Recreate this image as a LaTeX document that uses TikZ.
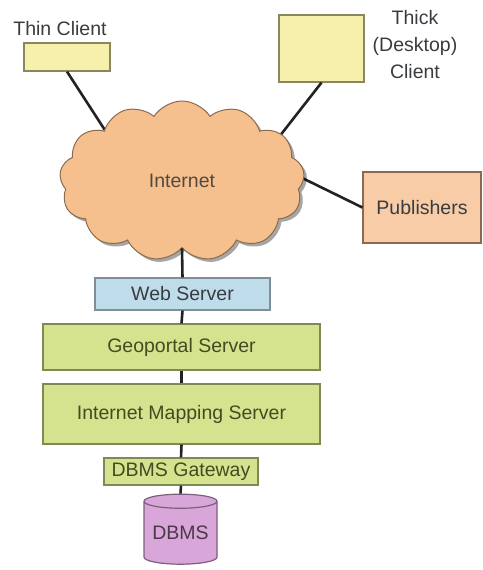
\documentclass[tikz,border=0pt]{standalone}
\usepackage{fontspec}
\setmainfont{Liberation Sans}
\usetikzlibrary{shapes.symbols,shapes.geometric,shadows}
\definecolor{clientfill}{HTML}{F7F0AC}
\definecolor{clientdraw}{HTML}{8A8660}
\definecolor{cloudfill}{HTML}{F6C08E}
\definecolor{clouddraw}{HTML}{8A6A50}
\definecolor{pubfill}{HTML}{F7CCA6}
\definecolor{webfill}{HTML}{BFDCEA}
\definecolor{webdraw}{HTML}{7F8E98}
\definecolor{greenfill}{HTML}{D6E38E}
\definecolor{greendraw}{HTML}{7E8A55}
\definecolor{dbfill}{HTML}{D8A6D8}
\definecolor{dbdraw}{HTML}{7E5E7E}
\definecolor{txt}{HTML}{383C40}
\definecolor{greentxt}{HTML}{424C22}
\definecolor{wire}{HTML}{222222}
\begin{document}
\begin{tikzpicture}[x=1pt,y=-1pt,
  every node/.style={font=\fontsize{19.5}{27}\selectfont, text=txt, inner sep=0pt},
  box/.style={draw, line width=1.2pt, rectangle},
  client/.style={box, fill=clientfill, draw=clientdraw},
  tier/.style={box, fill=greenfill, draw=greendraw, text=greentxt},
  wireline/.style={draw=wire, line width=2.6pt}]
\useasboundingbox (0,0) rectangle (482,570);

% connector ends hidden under the cloud
\coordinate (thinend) at (112,141);
\coordinate (thickend) at (272,146);
\coordinate (pubend) at (292,173);

% clients and publisher
\node[client, minimum width=86pt, minimum height=28pt] (thin) at (67,57) {};
\node (thinlabel) at (60,29) {Thin Client};
\node[client, minimum width=85pt, minimum height=67pt] (thick) at (321.5,48.5) {};
\node[align=center] (thicklabel) at (415,45) {Thick\\(Desktop)\\Client};
\node[box, fill=pubfill, draw=clouddraw, minimum width=118pt, minimum height=71pt] (pub) at (422,207.5) {Publishers};

\draw[wireline] (thin.south) -- (thinend);
\draw[wireline] (thick.south) -- (thickend);
\draw[wireline] (pub.west) -- (pubend);

% the internet cloud
\node[cloud, cloud puffs=13, cloud puff arc=115, cloud ignores aspect,
      minimum width=245pt, minimum height=160pt,
      fill=cloudfill, draw=clouddraw, line width=1pt, text=txt!80!brown,
      drop shadow={shadow xshift=3pt, shadow yshift=-3pt, opacity=0.35, fill=black}]
      (cloud) at (182,181) {Internet};

% server stack
\node[box, fill=webfill, draw=webdraw, minimum width=175pt, minimum height=32pt] (web) at (182.5,294) {Web Server};
\node[tier, minimum width=277pt, minimum height=46pt] (geo) at (181.5,347) {Geoportal Server};
\node[tier, minimum width=277pt, minimum height=60pt] (ims) at (181.5,414) {Internet Mapping Server};
\node[tier, minimum width=154pt, minimum height=27pt] (gw) at (181,471.5) {DBMS Gateway};
\node[cylinder, shape border rotate=90, aspect=0.25, minimum width=73pt, minimum height=70pt,
      fill=dbfill, draw=dbdraw, line width=1.2pt, cylinder uses custom fill, cylinder body fill=dbfill,
      cylinder end fill=dbfill, text=dbdraw!60!black] (dbms) at (180.5,533) {\raisebox{-6pt}{DBMS}};

\draw[wireline] (cloud.south) -- (web.north);
\draw[wireline] (web.south) -- (geo.north);
\draw[wireline] (geo.south) -- (ims.north);
\draw[wireline] (ims.south) -- (gw.north);
\draw[wireline] (gw.south) -- (dbms.north);
\end{tikzpicture}
\end{document}
